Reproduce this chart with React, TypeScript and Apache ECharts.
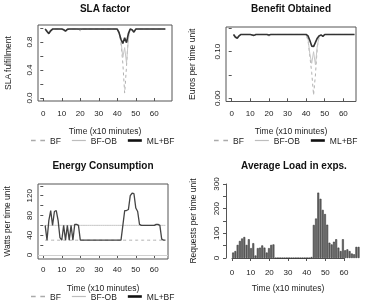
import React, { useEffect, useRef } from "react";
import * as echarts from "echarts";

// ---------- data ----------
const time = [
  1, 2, 3, 4, 5, 6, 7, 8, 9, 10, 11,
  12, 13, 14, 15, 16, 17, 18, 19, 20, 21, 22,
  23, 24, 25, 26, 27, 28, 29, 30, 31, 32, 33,
  34, 35, 36, 37, 38, 39, 40, 41, 42, 43, 44,
  45, 46, 47, 48, 49, 50, 51, 52, 53, 54, 55,
  56, 57, 58, 59, 60, 61, 62, 63, 64, 65, 66,
];

const slaML = [
  0.985, 0.95, 0.92, 0.96, 0.985, 0.985, 0.985, 0.985, 0.985, 0.985, 0.975,
  0.955, 0.98, 0.985, 0.985, 0.985, 0.985, 0.985, 0.985, 0.985, 0.985, 0.985,
  0.985, 0.985, 0.985, 0.985, 0.985, 0.985, 0.985, 0.985, 0.985, 0.985, 0.985,
  0.985, 0.985, 0.985, 0.985, 0.985, 0.985, 0.985, 0.93, 0.84, 0.78, 0.86,
  0.79, 0.92, 0.985, 0.975, 0.94, 0.985, 0.985, 0.985, 0.985, 0.985, 0.985,
  0.985, 0.985, 0.985, 0.985, 0.985, 0.985, 0.985, 0.985, 0.985, 0.985, 0.985,
];
const slaOB = [
  0.985, 0.96, 0.94, 0.97, 0.985, 0.985, 0.985, 0.985, 0.985, 0.985, 0.98,
  0.96, 0.98, 0.985, 0.985, 0.985, 0.985, 0.985, 0.98, 0.965, 0.985, 0.985,
  0.985, 0.985, 0.985, 0.985, 0.985, 0.985, 0.985, 0.985, 0.985, 0.985, 0.985,
  0.985, 0.985, 0.985, 0.985, 0.985, 0.985, 0.98, 0.95, 0.82, 0.58, 0.72,
  0.5, 0.84, 0.985, 0.97, 0.95, 0.985, 0.985, 0.985, 0.985, 0.985, 0.985,
  0.985, 0.985, 0.985, 0.985, 0.985, 0.985, 0.985, 0.985, 0.985, 0.985, 0.985,
];
const slaBF = [
  0.985, 0.965, 0.945, 0.975, 0.985, 0.985, 0.985, 0.985, 0.985, 0.985, 0.98,
  0.965, 0.985, 0.985, 0.985, 0.985, 0.985, 0.985, 0.98, 0.96, 0.985, 0.985,
  0.985, 0.985, 0.985, 0.985, 0.985, 0.985, 0.985, 0.985, 0.985, 0.985, 0.985,
  0.985, 0.985, 0.985, 0.985, 0.985, 0.985, 0.98, 0.94, 0.78, 0.5, 0.07,
  0.45, 0.9, 0.985, 0.97, 0.955, 0.985, 0.985, 0.985, 0.985, 0.985, 0.985,
  0.985, 0.985, 0.985, 0.985, 0.985, 0.985, 0.985, 0.985, 0.985, 0.985, 0.985,
];

const benML = [
  0.137, 0.131, 0.129, 0.134, 0.137, 0.137, 0.137, 0.137, 0.137, 0.137, 0.136,
  0.135, 0.137, 0.137, 0.137, 0.137, 0.137, 0.137, 0.137, 0.136, 0.137, 0.137,
  0.137, 0.137, 0.137, 0.137, 0.137, 0.137, 0.137, 0.137, 0.137, 0.137, 0.137,
  0.137, 0.137, 0.137, 0.137, 0.137, 0.137, 0.137, 0.134, 0.124, 0.112, 0.111,
  0.12, 0.129, 0.134, 0.136, 0.133, 0.137, 0.137, 0.137, 0.137, 0.137, 0.137,
  0.137, 0.137, 0.137, 0.137, 0.137, 0.137, 0.137, 0.137, 0.137, 0.137, 0.137,
];
const benOB = [
  0.137, 0.133, 0.131, 0.135, 0.137, 0.137, 0.137, 0.137, 0.137, 0.137, 0.136,
  0.134, 0.137, 0.137, 0.137, 0.137, 0.137, 0.137, 0.137, 0.134, 0.137, 0.137,
  0.137, 0.137, 0.137, 0.137, 0.137, 0.137, 0.137, 0.137, 0.137, 0.137, 0.137,
  0.137, 0.137, 0.137, 0.137, 0.137, 0.137, 0.136, 0.128, 0.095, 0.075, 0.1,
  0.072, 0.112, 0.133, 0.135, 0.134, 0.137, 0.137, 0.137, 0.137, 0.137, 0.137,
  0.137, 0.137, 0.137, 0.137, 0.137, 0.137, 0.137, 0.137, 0.137, 0.137, 0.137,
];
const benBF = [
  0.137, 0.133, 0.131, 0.135, 0.137, 0.137, 0.137, 0.137, 0.137, 0.137, 0.136,
  0.134, 0.137, 0.137, 0.137, 0.137, 0.137, 0.137, 0.137, 0.133, 0.137, 0.137,
  0.137, 0.137, 0.137, 0.137, 0.137, 0.137, 0.137, 0.137, 0.137, 0.137, 0.137,
  0.137, 0.137, 0.137, 0.137, 0.137, 0.137, 0.135, 0.125, 0.09, 0.055, 0.007,
  0.05, 0.11, 0.132, 0.135, 0.134, 0.137, 0.137, 0.137, 0.137, 0.137, 0.137,
  0.137, 0.137, 0.137, 0.137, 0.137, 0.137, 0.137, 0.137, 0.137, 0.137, 0.137,
];

const energyML = [
  60, 30, 70, 90, 60, 88, 90, 70, 35, 30, 60,
  30, 60, 30, 60, 30, 62, 62, 60, 30, 30, 30,
  30, 30, 30, 30, 30, 30, 30, 30, 30, 30, 30,
  30, 30, 30, 30, 30, 30, 30, 30, 30, 60, 90,
  90, 92, 120, 125, 124, 95, 88, 62, 60, 60, 60,
  60, 60, 60, 60, 60, 62, 62, 60, 32, 30, 30,
];
const energyOB = [
  60, 60, 60, 60, 60, 60, 60, 60, 60, 60, 60,
  60, 60, 60, 60, 60, 60, 60, 60, 60, 60, 60,
  60, 60, 60, 60, 60, 60, 60, 60, 60, 60, 60,
  60, 60, 60, 60, 60, 60, 60, 60, 60, 60, 60,
  60, 60, 60, 60, 60, 60, 60, 60, 60, 60, 60,
  60, 60, 60, 60, 60, 60, 60, 60, 60, 60, 60,
];
const energyBF = [
  30, 30, 30, 30, 30, 30, 30, 30, 30, 30, 30,
  30, 30, 30, 30, 30, 30, 30, 30, 30, 30, 30,
  30, 30, 30, 30, 30, 30, 30, 30, 30, 30, 30,
  30, 30, 30, 30, 30, 30, 30, 30, 30, 30, 30,
  30, 30, 30, 30, 30, 30, 30, 30, 30, 30, 30,
  30, 30, 30, 30, 30, 30, 30, 30, 30, 30, 30,
];

const loads = [
  22, 28, 53, 69, 79, 85, 53, 76, 40, 60, 10, 40, 42, 51, 42, 22, 40, 53, 55,
  0, 0, 0, 0, 0, 0, 0, 0, 0, 0, 0, 0, 0, 0, 0, 0,
  4, 134, 160, 265, 240, 195, 178, 135, 62, 55, 66, 76, 42, 28, 76, 31, 35, 28, 18, 15, 45, 45,
];

const xTicks = [0, 10, 20, 30, 40, 50, 60];
const slaTicks = [0, 0.2, 0.4, 0.6, 0.8, 1.0];
const slaLabels = [0, 0.4, 0.8];
const benTicks = [0, 0.05, 0.1, 0.15];
const benLabels = [0, 0.1];
const energyTicks = [0, 20, 40, 60, 80, 100, 120, 140];
const energyLabels = [0, 40, 80, 120];
const loadTicks = [0, 50, 100, 150, 200, 250, 300];
const loadLabels = [0, 100, 200, 300];

const seriesNames = ["BF", "BF-OB", "ML+BF"];
const titles = ["SLA factor", "Benefit Obtained", "Energy Consumption", "Average Load in exps."];

// ---------- styles ----------
const FONT = "Liberation Sans, Arial, Helvetica, sans-serif";
const AX = "#555";
const TXT = "#222";
const BF_STYLE = { color: "#b0b0b0", width: 1, type: [3, 3] as any };
const OB_STYLE = { color: "#c6c6c6", width: 1, type: "solid" as any };
const ML_STYLE = { color: "#333", width: 1.6, type: "solid" as any };

const ICON_BF = "path://M0,0h4v1.4h-4z M8,0h4v1.4h-4z";
const ICON_OB = "path://M0,0h14v1.2h-14z";
const ICON_ML = "path://M0,0h14v2.6h-14z";

const pairs = (ys: number[]) => time.map((t, i) => [t, ys[i]]);

function xAxisBox(gridIndex: number, min: number, max: number, nameGap: number, margin: number) {
  return {
    gridIndex,
    type: "value",
    min,
    max,
    axisLine: { show: false },
    axisTick: { show: true, length: 3, lineStyle: { color: AX }, customValues: xTicks },
    axisLabel: { customValues: xTicks, fontSize: 8, color: TXT, margin, fontFamily: FONT },
    splitLine: { show: false },
    name: "Time (x10 minutes)",
    nameLocation: "middle",
    nameGap,
    nameTextStyle: { fontSize: 8.5, color: TXT, fontFamily: FONT },
  };
}

function yAxisBox(
  gridIndex: number,
  min: number,
  max: number,
  ticks: number[],
  labels: number[],
  digits: number,
  name: string,
  nameGap: number
) {
  return {
    gridIndex,
    type: "value",
    min,
    max,
    axisLine: { show: false },
    axisTick: { show: true, length: 3, lineStyle: { color: AX }, customValues: ticks },
    axisLabel: {
      customValues: labels,
      fontSize: 8,
      color: TXT,
      margin: 5,
      rotate: 90,
      fontFamily: FONT,
      formatter: (v: number) => v.toFixed(digits),
    },
    splitLine: { show: false },
    name,
    nameLocation: "middle",
    nameGap,
    nameTextStyle: { fontSize: 8.5, color: TXT, fontFamily: FONT },
  };
}

function lineSeries(name: string, data: number[], idx: number, style: any, extra: any = {}) {
  return {
    name,
    type: "line",
    xAxisIndex: idx,
    yAxisIndex: idx,
    data: pairs(data),
    showSymbol: false,
    symbol: "none",
    lineStyle: style,
    itemStyle: { color: style.color },
    silent: true,
    ...extra,
  };
}

function legendAt(left: number, top: number) {
  return {
    left,
    top,
    width: 200,
    padding: 0,
    orient: "horizontal",
    itemWidth: 14,
    itemHeight: 8,
    itemGap: 11,
    selectedMode: false,
    textStyle: { fontSize: 8.5, color: TXT, fontFamily: FONT },
    data: [
      { name: seriesNames[0], icon: ICON_BF, itemStyle: { color: "#aaa" } },
      { name: seriesNames[1], icon: ICON_OB, itemStyle: { color: "#bdbdbd" } },
      { name: seriesNames[2], icon: ICON_ML, itemStyle: { color: "#111" } },
    ],
  };
}

function titleText(text: string, x: number, y: number) {
  return {
    type: "text",
    silent: true,
    style: {
      text,
      x,
      y,
      textAlign: "center",
      textVerticalAlign: "middle",
      align: "center",
      verticalAlign: "middle",
      font: `bold 10px ${FONT}`,
      fill: "#111",
    },
  };
}

export default function App() {
  const ref = useRef<HTMLDivElement>(null);

  useEffect(() => {
    if (!ref.current) return;
    const chart = echarts.init(ref.current, undefined, { renderer: "svg" });
    const gridBox = { show: true, borderColor: AX, borderWidth: 1, backgroundColor: "transparent" };

    const option: any = {
      animation: false,
      textStyle: { fontFamily: FONT },
      grid: [
        { left: 38, top: 25, width: 134, height: 76, ...gridBox },
        { left: 226, top: 27, width: 130, height: 74.5, ...gridBox },
        { left: 38, top: 184, width: 130, height: 75, ...gridBox },
        { left: 232, top: 184, width: 127.7, height: 74 },
        { left: 232, top: 184, width: 112, height: 74 },
      ],
      xAxis: [
        xAxisBox(0, -2.87, 69.6, 25, 8),
        xAxisBox(1, -3.06, 66.8, 25, 8),
        xAxisBox(2, -2.87, 67.4, 24.5, 6),
        {
          gridIndex: 3,
          type: "category",
          show: false,
          data: loads.map((_, i) => String(i + 1)),
        },
        {
          gridIndex: 4,
          type: "value",
          min: 0,
          max: 60,
          offset: 4,
          axisLine: { show: true, lineStyle: { color: AX, width: 1 } },
          axisTick: { show: true, length: 3, lineStyle: { color: AX }, customValues: xTicks },
          axisLabel: { customValues: xTicks, fontSize: 8, color: TXT, margin: 6.5, fontFamily: FONT },
          splitLine: { show: false },
          name: "Time (x10 minutes)",
          nameLocation: "middle",
          nameGap: 21.5,
          nameTextStyle: { fontSize: 8.5, color: TXT, fontFamily: FONT },
        },
      ],
      yAxis: [
        yAxisBox(0, -0.043, 1.043, slaTicks, slaLabels, 1, "SLA fulfillment", 25.5),
        yAxisBox(1, -0.0069, 0.153, benTicks, benLabels, 2, "Euros per time unit", 30),
        yAxisBox(2, -8.1, 143.7, energyTicks, energyLabels, 0, "Watts per time unit", 26.5),
        {
          gridIndex: 3,
          type: "value",
          min: 0,
          max: 300,
          position: "left",
          offset: 6,
          axisLine: { show: true, lineStyle: { color: AX, width: 1 } },
          axisTick: { show: true, length: 3, lineStyle: { color: AX }, customValues: loadTicks },
          axisLabel: {
            customValues: loadLabels,
            fontSize: 8,
            color: TXT,
            margin: 6,
            rotate: 90,
            fontFamily: FONT,
          },
          splitLine: { show: false },
          name: "Requests per time unit",
          nameLocation: "middle",
          nameGap: 28.5,
          nameTextStyle: { fontSize: 8.5, color: TXT, fontFamily: FONT },
        },
        { gridIndex: 4, type: "value", min: 0, max: 300, show: false },
      ],
      legend: [legendAt(31, 136), legendAt(214, 136), legendAt(31, 292)],
      graphic: [
        titleText(titles[0], 105, 8),
        titleText(titles[1], 291, 8),
        titleText(titles[2], 103, 165),
        titleText(titles[3], 294, 165),
      ],
      series: [
        lineSeries("BF", slaBF, 0, BF_STYLE),
        lineSeries("BF-OB", slaOB, 0, OB_STYLE),
        lineSeries("ML+BF", slaML, 0, ML_STYLE),
        lineSeries("BF", benBF, 1, BF_STYLE),
        lineSeries("BF-OB", benOB, 1, OB_STYLE),
        lineSeries("ML+BF", benML, 1, ML_STYLE),
        lineSeries("BF", energyBF, 2, BF_STYLE),
        lineSeries("BF-OB", energyOB, 2, OB_STYLE, {
          markLine: {
            silent: true,
            symbol: "none",
            label: { show: false },
            lineStyle: { color: "#cfcfcf", type: "solid", width: 1 },
            data: [{ yAxis: 0 }],
          },
        }),
        lineSeries("ML+BF", energyML, 2, { color: "#444", width: 1.3, type: "solid" }),
        {
          name: "Load",
          type: "bar",
          xAxisIndex: 3,
          yAxisIndex: 3,
          data: loads,
          barCategoryGap: "16.7%",
          silent: true,
          itemStyle: { color: "#6e6e6e", borderColor: "#222", borderWidth: 0.5 },
        },
      ],
    };

    chart.setOption(option);
    return () => chart.dispose();
  }, []);

  return (
    <div
      ref={ref}
      style={{ position: "fixed", left: 0, top: 0, width: 366, height: 302 }}
    />
  );
}
